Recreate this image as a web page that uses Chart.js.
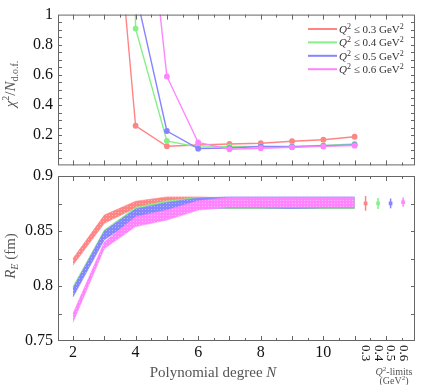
<!DOCTYPE html>
<html>
<head>
<meta charset="utf-8">
<script src="https://cdn.jsdelivr.net/npm/chart.js@4.4.0/dist/chart.umd.min.js"></script>
<style>
  body { margin: 0; background: #fff; }
  #wrap { position: relative; width: 427px; height: 385px; overflow: hidden; }
  canvas { position: absolute; left: 0; }
  #chi2 { top: 0; }
  #radius { top: 160px; }
</style>
</head>
<body>
<div id="wrap">
  <canvas id="chi2" width="427" height="180"></canvas>
  <canvas id="radius" width="427" height="225"></canvas>
</div>
<script>
// polynomial degree N
const degrees = [2, 3, 4, 5, 6, 7, 8, 9, 10, 11];
const q2Cuts = ['0.3', '0.4', '0.5', '0.6'];

// chi^2 / N_dof (values above 1 leave the panel)
const chi2Q03 = [10, 2.6, 0.263, 0.127, 0.135, 0.142, 0.147, 0.160, 0.170, 0.190];
const chi2Q04 = [40, 15, 0.907, 0.162, 0.121, 0.125, 0.126, 0.128, 0.133, 0.142];
const chi2Q05 = [40, 12, 1.15, 0.228, 0.111, 0.115, 0.125, 0.122, 0.130, 0.136];
const chi2Q06 = [40, 15, 2.5, 0.590, 0.152, 0.107, 0.114, 0.120, 0.126, 0.131];

// R_E bands in fm, lower and upper edge
const rLowQ03  = [0.819, 0.857, 0.871, 0.874, 0.873, 0.8705, 0.8705, 0.8705, 0.8705, 0.8705];
const rHighQ03 = [0.825, 0.8645, 0.877, 0.881, 0.881, 0.880, 0.880, 0.880, 0.880, 0.880];
const rLowQ04  = [0.792, 0.843, 0.862, 0.868, 0.871, 0.8705, 0.8705, 0.8705, 0.8705, 0.8705];
const rHighQ04 = [0.7995, 0.851, 0.8715, 0.8775, 0.8805, 0.8805, 0.8805, 0.8805, 0.8805, 0.8805];
const rLowQ05  = [0.790, 0.842, 0.861, 0.867, 0.8705, 0.871, 0.871, 0.8705, 0.871, 0.871];
const rHighQ05 = [0.798, 0.850, 0.870, 0.876, 0.880, 0.881, 0.881, 0.881, 0.881, 0.881];
const rLowQ06  = [0.767, 0.834, 0.854, 0.860, 0.869, 0.8715, 0.8715, 0.8715, 0.8715, 0.8715];
const rHighQ06 = [0.775, 0.840, 0.863, 0.869, 0.8775, 0.8805, 0.8805, 0.8805, 0.8805, 0.8805];

// combined R_E per Q^2 cut, shown right of the bands
const q2Pos = [11.35, 11.75, 12.15, 12.55];
const q2R   = [0.8751, 0.8751, 0.8751, 0.8762];
const q2Err = [0.0067, 0.0050, 0.0045, 0.0042];

const COLORS = ['#ff8585', '#85f085', '#8585ff', '#ff85ff'];
const SERIF = "'Liberation Serif', 'DejaVu Serif', serif";
const X_MIN = 1.52, X_MAX = 12.93;

const xy = (xs, ys) => ys.map((v, i) => ({ x: xs[i], y: v }));

// draw a run of text pieces (italic, sub/superscripts) centred or left aligned
function drawRuns(ctx, parts, x, y, opts = {}) {
  ctx.save();
  ctx.translate(x, y);
  if (opts.rot) ctx.rotate(opts.rot);
  ctx.fillStyle = opts.color || '#555';
  ctx.textBaseline = 'alphabetic';
  ctx.textAlign = 'left';
  let w = 0;
  parts.forEach(p => { ctx.font = p.f; p.w = ctx.measureText(p.t).width; w += p.w; });
  let cx = opts.left ? 0 : -w / 2;
  parts.forEach(p => { ctx.font = p.f; ctx.fillText(p.t, cx, p.dy || 0); cx += p.w; });
  ctx.restore();
}

// frame with inward ticks on all four sides
function framePlugin(yStep) {
  return {
    id: 'frame',
    afterDatasetsDraw(chart) {
      const { ctx, chartArea: a } = chart;
      const { x, y } = chart.scales;
      ctx.save();
      ctx.strokeStyle = '#666';
      ctx.lineWidth = 1;
      ctx.beginPath();
      for (let k = 4; k <= 25; k++) {
        const px = Math.round(x.getPixelForValue(k / 2)) + 0.5;
        const len = k % 2 === 0 ? 5 : 3;
        ctx.moveTo(px, a.top); ctx.lineTo(px, a.top + len);
        ctx.moveTo(px, a.bottom); ctx.lineTo(px, a.bottom - len);
      }
      const n = Math.round((y.max - y.min) / yStep);
      for (let k = 1; k < n; k++) {
        const py = Math.round(y.getPixelForValue(y.min + k * yStep)) + 0.5;
        ctx.moveTo(a.left, py); ctx.lineTo(a.left + 4, py);
        ctx.moveTo(a.right, py); ctx.lineTo(a.right - 4, py);
      }
      ctx.stroke();
      ctx.strokeRect(a.left + 0.5, a.top + 0.5, a.right - a.left - 1, a.bottom - a.top - 1);
      ctx.restore();
    }
  };
}

function yTicks(values) {
  return {
    afterFit: s => { s.width = 58; },
    afterBuildTicks: s => { s.ticks = values.map(v => ({ value: v })); },
    grid: { display: false, drawTicks: false },
    border: { display: false },
    ticks: { font: { family: SERIF, size: 16 }, color: '#111', padding: 5, callback: v => String(v) }
  };
}

// ---------- top panel: chi^2 / N_dof ----------
const chi2Series = [chi2Q03, chi2Q04, chi2Q05, chi2Q06];

const chi2Deco = {
  id: 'chi2Deco',
  afterDraw(chart) {
    const ctx = chart.ctx;
    drawRuns(ctx, [
      { t: 'χ', f: 'italic 15px ' + SERIF },
      { t: '2', f: '10px ' + SERIF, dy: -6 },
      { t: '/', f: '15px ' + SERIF },
      { t: 'N', f: 'italic 15px ' + SERIF },
      { t: 'd.o.f.', f: '10px ' + SERIF, dy: 3 }
    ], 15, 84, { rot: -Math.PI / 2 });

    // legend
    q2Cuts.forEach((c, i) => {
      const yy = 29 + i * 13.4;
      ctx.save();
      ctx.strokeStyle = COLORS[i];
      ctx.lineWidth = 2;
      ctx.beginPath(); ctx.moveTo(308, yy); ctx.lineTo(337, yy); ctx.stroke();
      ctx.restore();
      drawRuns(ctx, [
        { t: 'Q', f: 'italic 11px ' + SERIF, dy: 4 },
        { t: '2', f: '8px ' + SERIF, dy: 0 },
        { t: ' ≤ ' + c + ' GeV', f: '11px ' + SERIF, dy: 4 },
        { t: '2', f: '8px ' + SERIF, dy: 0 }
      ], 339, yy, { left: true, color: '#333' });
    });
  }
};

new Chart(document.getElementById('chi2'), {
  type: 'line',
  data: {
    datasets: chi2Series.map((d, i) => ({
      label: 'Q2 <= ' + q2Cuts[i],
      data: xy(degrees, d),
      borderColor: COLORS[i],
      backgroundColor: COLORS[i],
      borderWidth: 1.4,
      pointRadius: 2.2,
      pointHoverRadius: 2.2,
      clip: 0,
      order: 4 - i
    }))
  },
  options: {
    responsive: false,
    animation: false,
    events: [],
    layout: { padding: { top: 11, right: 12, bottom: 4, left: 0 } },
    plugins: { legend: { display: false }, tooltip: { enabled: false } },
    scales: {
      x: { type: 'linear', min: X_MIN, max: X_MAX, display: false },
      y: Object.assign({ min: 0, max: 1 }, yTicks([0.2, 0.4, 0.6, 0.8, 1]))
    }
  },
  plugins: [framePlugin(0.05), chi2Deco]
});

// ---------- bottom panel: R_E bands ----------
const radiusCanvas = document.getElementById('radius');
const rctx = radiusCanvas.getContext('2d');

// light dotted texture for the bands
function dotted(color) {
  const c = document.createElement('canvas');
  c.width = 3; c.height = 3;
  const g = c.getContext('2d');
  g.fillStyle = color;
  g.fillRect(0, 0, 3, 3);
  g.fillStyle = 'rgba(255,255,255,0.4)';
  g.fillRect(1, 1, 1, 1);
  return rctx.createPattern(c, 'repeat');
}

const bands = [[rLowQ03, rHighQ03], [rLowQ04, rHighQ04], [rLowQ05, rHighQ05], [rLowQ06, rHighQ06]];
const bandSets = [];
bands.forEach(([lo, hi], i) => {
  bandSets.push({ data: xy(degrees, lo), borderColor: COLORS[i], borderWidth: 0.6, pointRadius: 0, fill: false, order: 4 - i });
  bandSets.push({ data: xy(degrees, hi), borderColor: COLORS[i], borderWidth: 0.6, pointRadius: 0, fill: '-1', backgroundColor: dotted(COLORS[i]), order: 4 - i });
});
const pointSets = q2Cuts.map((c, i) => ({
  data: [{ x: q2Pos[i], y: q2R[i] }],
  showLine: false,
  pointStyle: 'rect',
  pointRadius: 2.6,
  pointHoverRadius: 2.6,
  borderWidth: 0,
  backgroundColor: COLORS[i]
}));

const radiusDeco = {
  id: 'radiusDeco',
  beforeDatasetsDraw(chart) {
    const { ctx } = chart;
    const { x, y } = chart.scales;
    ctx.save();
    ctx.lineWidth = 1.5;
    q2Cuts.forEach((c, i) => {
      const px = x.getPixelForValue(q2Pos[i]);
      ctx.strokeStyle = COLORS[i];
      ctx.beginPath();
      ctx.moveTo(px, y.getPixelForValue(q2R[i] - q2Err[i]));
      ctx.lineTo(px, y.getPixelForValue(q2R[i] + q2Err[i]));
      ctx.stroke();
    });
    ctx.restore();
  },
  afterDraw(chart) {
    const { ctx } = chart;
    const { x } = chart.scales;
    drawRuns(ctx, [
      { t: 'R', f: 'italic 15px ' + SERIF },
      { t: 'E', f: 'italic 10px ' + SERIF, dy: 3 },
      { t: ' (fm)', f: '15px ' + SERIF }
    ], 15, 96, { rot: -Math.PI / 2 });

    drawRuns(ctx, [
      { t: 'Polynomial degree ', f: '15px ' + SERIF },
      { t: 'N', f: 'italic 15px ' + SERIF }
    ], 213, 217);

    // rotated Q^2 cut labels
    ctx.save();
    ctx.fillStyle = '#111';
    ctx.font = '13px ' + SERIF;
    ctx.textBaseline = 'middle';
    ctx.textAlign = 'left';
    q2Cuts.forEach((c, i) => {
      ctx.save();
      ctx.translate(x.getPixelForValue(q2Pos[i]), 185);
      ctx.rotate(Math.PI / 2);
      ctx.fillText(c, 0, 0);
      ctx.restore();
    });
    ctx.restore();

    drawRuns(ctx, [
      { t: 'Q', f: 'italic 10px ' + SERIF },
      { t: '2', f: '7px ' + SERIF, dy: -4 },
      { t: '-limits', f: '10px ' + SERIF }
    ], 394, 215);
    drawRuns(ctx, [
      { t: '(GeV', f: '10px ' + SERIF },
      { t: '2', f: '7px ' + SERIF, dy: -4 },
      { t: ')', f: '10px ' + SERIF }
    ], 394, 224);
  }
};

new Chart(radiusCanvas, {
  type: 'line',
  data: { datasets: bandSets.concat(pointSets) },
  options: {
    responsive: false,
    animation: false,
    events: [],
    layout: { padding: { top: 16, right: 12, bottom: 0, left: 0 } },
    plugins: { legend: { display: false }, tooltip: { enabled: false } },
    scales: {
      x: {
        type: 'linear', min: X_MIN, max: X_MAX,
        afterFit: s => { s.height = 44; },
        afterBuildTicks: s => { s.ticks = [2, 4, 6, 8, 10].map(v => ({ value: v })); },
        grid: { display: false, drawTicks: false },
        border: { display: false },
        ticks: { font: { family: SERIF, size: 16 }, color: '#111', padding: 2, maxRotation: 0, autoSkip: false, callback: v => String(v) }
      },
      y: Object.assign({ min: 0.75, max: 0.9 }, yTicks([0.75, 0.8, 0.85, 0.9]))
    }
  },
  plugins: [framePlugin(0.025), radiusDeco]
});
</script>
</body>
</html>
